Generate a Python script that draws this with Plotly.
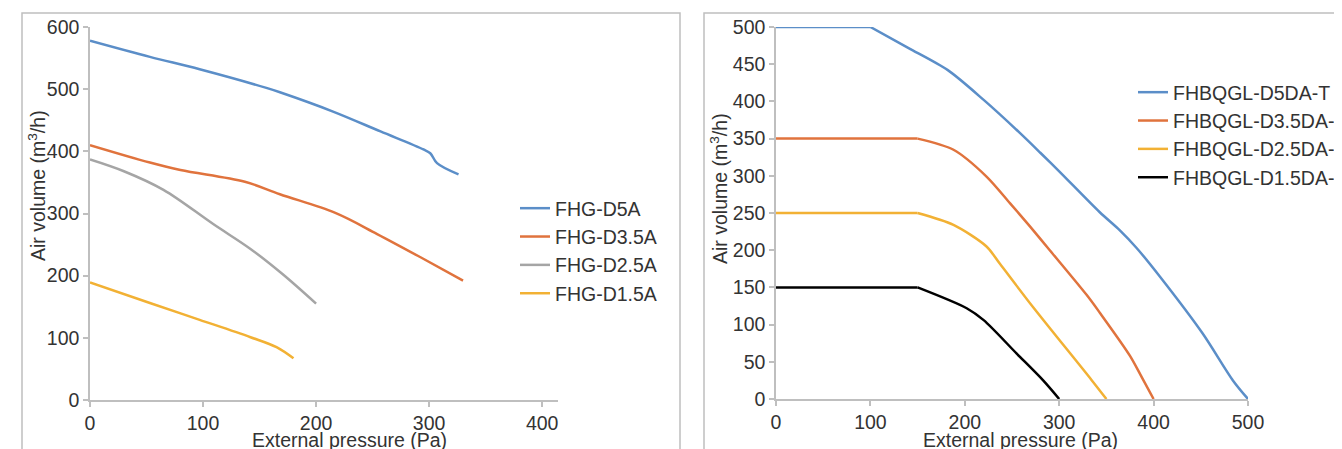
import plotly.graph_objects as go

# ---------------- data (left chart) ----------------
left_names = ["FHG-D5A", "FHG-D3.5A", "FHG-D2.5A", "FHG-D1.5A"]
l_d5_x = [0, 53, 97, 156, 168, 215, 257, 295, 301, 307, 326]
l_d5_y = [578, 552, 532, 502, 495, 464, 432, 403, 397, 381, 363]
l_d35_x = [0, 53, 80, 137, 168, 217, 254, 292, 330]
l_d35_y = [410, 382, 370, 351, 331, 301, 267, 230, 192]
l_d25_x = [0, 30, 65, 109, 142, 170, 200]
l_d25_y = [387, 368, 338, 283, 243, 203, 155]
l_d15_x = [0, 53, 97, 142, 165, 180]
l_d15_y = [189, 156, 129, 101, 85, 67]
left_xticks = [0, 100, 200, 300, 400]
left_yticks = [0, 100, 200, 300, 400, 500, 600]

# ---------------- data (right chart) ----------------
right_names = ["FHBQGL-D5DA-T", "FHBQGL-D3.5DA-T", "FHBQGL-D2.5DA-T", "FHBQGL-D1.5DA-T"]
r_d5_x = [0, 100, 140, 182, 220, 258, 280, 300, 343, 364, 382, 407, 452, 484, 500]
r_d5_y = [500, 500, 472, 442, 402, 358, 331, 306, 251, 227, 203, 164, 88, 25, 0]
r_d35_x = [0, 150, 188, 223, 248, 269, 290, 329, 343, 375, 388, 400]
r_d35_y = [350, 350, 335, 299, 263, 232, 200, 140, 116, 58, 28, 0]
r_d25_x = [0, 150, 188, 223, 237, 272, 334, 350]
r_d25_y = [250, 250, 234, 205, 182, 124, 26, 0]
r_d15_x = [0, 150, 202, 220, 255, 283, 300]
r_d15_y = [150, 150, 122, 106, 61, 25, 0]
right_xticks = [0, 100, 200, 300, 400, 500]
right_yticks = [0, 50, 100, 150, 200, 250, 300, 350, 400, 450, 500]

colors = ["#5b8ec8", "#e0733d", "#a5a5a5", "#f2b134"]
right_colors = ["#5b8ec8", "#e0733d", "#f2b134", "#000000"]

# the page body has an 8px margin, so the figure starts at page (8, 8)
OFF = 8
W, H = 1342 - OFF, 449 - OFF
FONT = "Liberation Sans, Arial, sans-serif"
TXT = "#333333"
GRID = "#bfbfbf"
FS = 19.5


def px(xp):
    return (xp - OFF) / W


def py(yp):
    return (H - (yp - OFF)) / H


fig = go.Figure()

left_series = [(l_d5_x, l_d5_y), (l_d35_x, l_d35_y), (l_d25_x, l_d25_y), (l_d15_x, l_d15_y)]
for name, (xs, ys), c in zip(left_names, left_series, colors):
    fig.add_trace(go.Scatter(x=xs, y=ys, name=name, mode="lines",
                             line=dict(color=c, width=2.5, shape="spline", smoothing=1.0),
                             xaxis="x", yaxis="y", legend="legend"))

# right chart: flat plateau drawn straight, falling part smoothed
right_series = [(r_d5_x, r_d5_y), (r_d35_x, r_d35_y), (r_d25_x, r_d25_y), (r_d15_x, r_d15_y)]
for name, (xs, ys), c in zip(right_names, right_series, right_colors):
    fig.add_trace(go.Scatter(x=xs[:2], y=ys[:2], name=name, mode="lines",
                             line=dict(color=c, width=2.5), legendgroup=name,
                             xaxis="x2", yaxis="y2", legend="legend2"))
    fig.add_trace(go.Scatter(x=xs[1:], y=ys[1:], name=name, mode="lines",
                             line=dict(color=c, width=2.5, shape="spline", smoothing=0.8),
                             legendgroup=name, showlegend=False,
                             xaxis="x2", yaxis="y2", legend="legend2"))

axis_common = dict(showline=True, linecolor=GRID, linewidth=1.5, ticks="outside",
                   ticklen=5, tickcolor=GRID, tickwidth=1.5, showgrid=False, zeroline=False,
                   tickfont=dict(family=FONT, size=FS, color=TXT))

fig.update_layout(
    width=W, height=H,
    margin=dict(l=0, r=0, t=0, b=0, autoexpand=False),
    paper_bgcolor="white", plot_bgcolor="white",
    font=dict(family=FONT, size=FS, color=TXT),
    xaxis=dict(domain=[px(90), px(558)], range=[0, 414], tickvals=left_xticks,
               anchor="y", **axis_common),
    yaxis=dict(domain=[py(400), py(27)], range=[0, 600], tickvals=left_yticks,
               anchor="x", **axis_common),
    xaxis2=dict(domain=[px(776), px(1248)], range=[0, 500], tickvals=right_xticks,
                anchor="y2", **axis_common),
    yaxis2=dict(domain=[py(399), py(27)], range=[0, 500], tickvals=right_yticks,
                anchor="x2", **axis_common),
    legend=dict(x=px(515), y=py(189), xanchor="left", yanchor="top",
                font=dict(family=FONT, size=FS, color=TXT), bgcolor="rgba(0,0,0,0)",
                tracegroupgap=0),
    legend2=dict(x=px(1133), y=py(73), xanchor="left", yanchor="top",
                 font=dict(family=FONT, size=FS, color=TXT), bgcolor="rgba(0,0,0,0)",
                 tracegroupgap=0),
    showlegend=True,
)

# panel frames
fig.add_shape(type="rect", xref="paper", yref="paper",
              x0=px(22), x1=px(680), y0=-0.2, y1=py(13),
              line=dict(color=GRID, width=1.5), layer="below")
fig.add_shape(type="rect", xref="paper", yref="paper",
              x0=px(704), x1=1.2, y0=-0.2, y1=py(13),
              line=dict(color=GRID, width=1.5), layer="below")

# axis titles
ann = dict(xref="paper", yref="paper", showarrow=False,
           font=dict(family=FONT, size=FS, color=TXT))
fig.add_annotation(text="External pressure (Pa)", x=px(349), y=py(440),
                   xanchor="center", yanchor="middle", **ann)
fig.add_annotation(text="External pressure (Pa)", x=px(1021), y=py(440),
                   xanchor="center", yanchor="middle", **ann)
fig.add_annotation(text="Air volume (m<sup>3</sup>/h)", x=px(37), y=py(186),
                   xanchor="center", yanchor="middle", textangle=-90, **ann)
fig.add_annotation(text="Air volume (m<sup>3</sup>/h)", x=px(719), y=py(189),
                   xanchor="center", yanchor="middle", textangle=-90, **ann)

fig.write_html("out.html")
